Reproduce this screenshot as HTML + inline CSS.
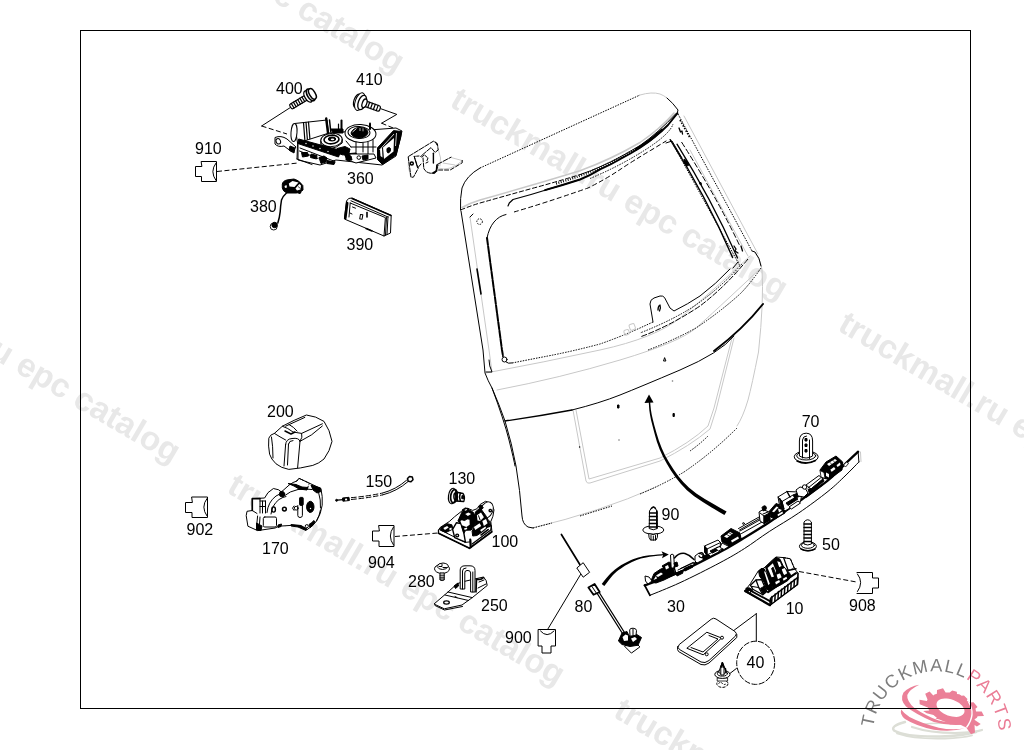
<!DOCTYPE html>
<html><head><meta charset="utf-8"><title>Parts diagram</title>
<style>
html,body{margin:0;padding:0;background:#fff;}
body{width:1024px;height:750px;overflow:hidden;font-family:"Liberation Sans",sans-serif;}
svg{display:block;position:absolute;left:0;top:0;will-change:transform;}
.wm{font-family:"Liberation Sans",sans-serif;font-weight:bold;font-size:33.4px;fill:#e8e8e8;}
.lb{font-family:"Liberation Sans",sans-serif;font-size:16px;fill:#000;}
.k{fill:none;stroke:#000;stroke-width:1;stroke-linecap:round;stroke-linejoin:round;}
.k2{fill:none;stroke:#000;stroke-width:1.6;stroke-linecap:round;stroke-linejoin:round;}
.g{fill:none;stroke:#c8c8c8;stroke-width:1;stroke-linecap:round;stroke-linejoin:round;}
.d{fill:none;stroke:#000;stroke-width:1;stroke-dasharray:5 2.5;}
.dt{fill:none;stroke:#000;stroke-width:1;stroke-dasharray:1.5 1.2;}
.w{fill:#fff;stroke:#000;stroke-width:1;stroke-linejoin:round;}
.b{fill:#000;stroke:#000;stroke-width:1;stroke-linejoin:round;}
</style></head><body>
<svg width="1024" height="750" viewBox="0 0 1024 750">
<!--WATERMARKS-->
<g class="wm">
<text transform="translate(448.500,105.500) rotate(30.5)">truckmall.ru epc catalog</text>
<text transform="translate(225.500,491.500) rotate(30.5)">truckmall.ru epc catalog</text>
<text transform="translate(836.500,329.500) rotate(30.5)">truckmall.ru epc catalog</text>
<text transform="translate(612,716) rotate(30.5)">truckmall.ru epc catalog</text>
<text transform="translate(65,-121) rotate(30.5)">truckmall.ru epc catalog</text>
<text transform="translate(-159,269) rotate(30.5)">truckmall.ru epc catalog</text>
</g>
<g id="logo">
<defs>
<path id="arc1" d="M873,734.400 A63,63 0 0 1 999,734.400 A63,63 0 0 1 990,766"/>
</defs>
<!-- gray shadow -->
<g fill="none" stroke="#dcded6" stroke-linecap="round">
<path stroke-width="2.500" d="M905,722 Q890,726 894,730.500 Q905,737 940,736.500 Q962,736 976,732"/>
<path stroke-width="1.800" d="M897,733.500 Q915,739.500 945,738.500 Q962,738 972,735.500"/>
<path stroke-width="2.200" d="M912,727 Q930,733 955,733 Q975,732.500 982,730"/>
<path stroke-width="1.500" d="M920,724.500 Q940,722 968,724.500"/>
</g>
<!-- swooshes -->
<path fill="#eb8098" d="M919.300,684.800 Q909.500,686.500 903.500,692.500 Q899.500,699.500 906,706.500 Q916,714.500 933.900,722 Q950,726.500 968.100,724 Q953,724 938.800,720.600 Q926,716 914.400,708 Q906.500,701 907.300,695 Q909.500,689.500 919.300,684.800Z"/>
<path fill="#eb8098" d="M901.200,709.500 Q899.500,714.500 905,719 Q916,726 933.900,729.800 Q952,732 964.500,728.500 Q951,730.300 938.800,727.700 Q922,723.500 909.500,717 Q904,713.500 901.200,709.500Z"/>
<!-- gear -->
<path fill="#eb8098" fill-rule="evenodd" d="M975.4,718.7 L974.4,719.8 L980.7,724.1 L976.9,726.6 L974.500,725 L975,732.500 L971,734.300 L966.2,727.500 L964.0,726.600 L959.9,724.6 L957.7,724.5 L955.5,724.3 L950,724.500 L945.7,722.0 L943.5,721.2 L939.4,719.500 L935.500,718.600 L936.9,717.7 L935.2,716.5 L933.5,715.1 L926.6,713.300 L923.200,711 L929.3,710.5 L928.4,709.1 L927.8,707.6 L919.7,704.300 L919.5,699.800 L926.9,701 L927.1,700.500 L927.5,699.500 L925.200,693.800 L929.600,691.500 L933.300,695.500 L934.500,694.600 L936.900,693.800 L937,689.900 L943.0,688.3 L945.600,692.400 L947.600,692.600 L949.700,692.500 L952.200,690.400 L956.800,691.700 L957.0,693.900 L959.300,694.300 L961.600,695.800 L964.0,695.600 L967.500,698.900 L966.800,700.400 L967.900,701.400 L969.900,702.500 L973.600,702.200 L977.500,706.900 L975.400,708.700 L975.800,710.100 L976.0,711.500 L981.700,711.600 L984.0,715.900 L977.600,716.300 L976.900,717.800Z M964.2,712.7 L963.6,713.8 L962.7,714.8 L961.5,715.6 L960.0,716.3 L958.2,716.7 L956.3,716.9 L954.2,716.8 L952.1,716.6 L949.9,716.1 L947.7,715.4 L945.6,714.5 L943.6,713.5 L941.8,712.3 L940.2,711.0 L938.8,709.6 L937.8,708.2 L937.0,706.7 L936.6,705.3 L936.5,704.0 L936.8,702.7 L937.4,701.6 L938.3,700.6 L939.5,699.8 L941.0,699.1 L942.8,698.7 L944.7,698.5 L946.8,698.6 L948.9,698.8 L951.1,699.3 L953.3,700.0 L955.4,700.9 L957.4,701.9 L959.2,703.1 L960.8,704.4 L962.2,705.8 L963.2,707.2 L964.0,708.7 L964.4,710.1 L964.5,711.4Z"/>
<path d="M968.500,702 Q976.500,714 966.500,727.500" fill="none" stroke="#fff" stroke-width="1.300"/>
<!-- text on arc -->
<text font-family="Liberation Sans, sans-serif" font-size="18" letter-spacing="1.500" fill="#7d7d7d"><textPath href="#arc1" startOffset="7">TRUCKMALL<tspan fill="#eb7d96">PARTS</tspan></textPath></text>
</g>
<!--FRAME-->
<rect x="80.5" y="30.5" width="890" height="678" fill="none" stroke="#000" stroke-width="1"/>
<!--TAILGATE-->
<g id="tailgate">
<!-- gray secondary lines -->
<path class="g" style="stroke-width:1.500" d="M462,207.500 Q470,203 480,200 Q530,186 580,170.700 Q612,159 640,142.500 Q660,129 674,113"/>
<path class="g" d="M470,217 L489,350 L492,372"/>
<path class="g" d="M486,373 Q545,362 600,350 T680,318 T750,256"/>
<path class="g" d="M497,390 Q560,378 620,360 T696,328 T761,268"/>
<path class="g" d="M755,253 Q761,260 762,270 Q764,300 758.5,352 Q752,385 748,400 Q743,417 737,426"/>
<path class="g" d="M573,410 L586,481 Q587,484 590,483 L660,461 Q690,446 710,429 L716,410 L734,338"/>
<path class="g" d="M576,410 L589,479 L660,458 Q690,443 708,426 L714,408 L732,338"/>
<path class="g" d="M684,116 L758,254"/>
<path class="g" d="M690,150 L748,256"/>
<path class="g" d="M532,528 Q600,512 656,487"/>
<!-- spoiler -->
<path class="dt" d="M480,168 L640,95"/>
<path class="k" d="M480,168 Q466,176 462,188 Q460,198 460.500,210"/>
<path class="g" d="M640,95 Q652,91.500 660,94 Q664,95.500 667,98"/>
<path class="k" d="M667,98 Q673,103 678,110 L677,114"/>
<path class="d" style="stroke-dasharray:5 1.800" d="M460.500,210 Q470,206 480,203 Q505,196 530,189 Q556,182 580,174.600"/>
<path class="k" d="M580,174.600 Q591,171 600,166.800 Q611,162 620,157 Q631,151 640,145.500 Q658,133 676,113.500"/>
<path class="k" style="stroke-width:1.200" d="M508,206 L509.300,203 L513,199.500 Q530,195 545,190.200 Q563,185 580,179.500"/>
<path class="k" style="stroke-width:1.900" d="M545,190.200 Q563,185 580,179.500 Q591,175 600,169.400 Q611,164.500 620,159.200 Q631,153.500 640,147.800 Q656,137 668,125 L677.500,113.200"/>
<path fill="none" stroke="#000" stroke-width="2.400" stroke-dasharray="0.900 1.500" d="M556,183.500 Q580,176.500 600,167.800 Q621,158 640,146.500"/>
<path class="k" style="stroke-width:2.600" d="M636,149.500 Q650,141 662,130"/>
<path class="dt" d="M590,178.500 Q620,166 645,150 T673,124"/>
<!-- window opening -->
<path class="k" style="stroke-width:2;stroke-dasharray:7 1.5" d="M487,238 L502,350 L503,356"/>
<path class="k" d="M487,238 Q489,228 494,222 Q499,216 506,214.5"/>
<path class="d" d="M514,212 Q545,203 588,188 Q606,179 620,169.6 T652,149.6 L666.4,140.8"/>
<path class="k" style="stroke-width:1.400" d="M670.200,139.700 Q707,198 732.600,257.500"/>
<path class="k" style="stroke-width:1.300" d="M677,144.200 Q712,200 737.500,258"/>
<path class="dt" style="stroke-dasharray:6 2" d="M681.500,142 Q716,196 739.400,245"/>
<path class="b" d="M684,159 l3,2 l2,4 l-2,1 l-3,-3z"/>
<path class="k" style="stroke-width:1.300" d="M679,128 l1.500,4 l1.500,-1 l0.500,3"/>
<path class="dt" style="stroke-dasharray:1.500 1.500;stroke-width:1.600" d="M680,120 L690,138"/>
<path class="b" d="M699.500,182.500 l1.500,0 l0.500,2 l-1.500,0z"/>
<path class="k" style="stroke-width:1.300" d="M734,246 l2,3 l-1,2 l3,2 M741,246 l1.500,5"/>
<path class="k" d="M666,143 L672,141 L682,158"/>
<path class="dt" d="M674,146 L740,266"/>
<path class="dt" d="M678,114 L752,251"/>
<path class="k" d="M752,251 L755,252 Q760,258 761,266"/>
<path class="k" d="M738,262 L733,268"/>
<path class="k" d="M730,269 Q716,284 700,296 Q688,304 674,311 L670,308 L664.5,297.5 Q663,295.5 660,296 L654,298 Q650,299.5 650,304 L653,322"/>
<path class="dt" d="M653,322 L640,328 Q620,337 600,344 Q570,352 540,357.5 L512,363"/>
<path class="dt" d="M742,264 Q722,286 700,302 T640,333"/>
<path class="d" style="stroke-dasharray:6 1.5" d="M748,259 Q725,287 700,306 Q670,326 640,337"/>
<path class="k" d="M512,363 Q508,364 506,362"/>
<circle class="k" cx="504.500" cy="359.500" r="2.500"/>
<path class="dt" d="M761,268 Q750,284 740,294 Q720,312 696,328 Q672,341 648,350"/>
<!-- outer left edge -->
<path class="k" d="M461,211 L483,350 L485,373 Q488,381 492,388 Q499,404 505,421 Q512,444 516,466 Q520,490 522,516 Q522.500,524 528,527 L533,528"/>
<path class="k" d="M492,388 Q504,420 509,440 T515,466"/>
<path class="k" style="stroke-width:1.6" d="M477,269 L481,294"/>
<path class="k" d="M486,372 L492,372 Q489,366 489,360"/>
<path class="k" d="M470,217 L473,214"/>
<circle class="dt" cx="479.600" cy="221.600" r="2.800"/>
<!-- belt line -->
<path class="k" style="stroke-width:1.3" d="M505,421 Q540,416 572,410"/>
<path class="k" d="M572,410 Q600,403 620,395 T680,370 T734,336"/>
<path class="k" style="stroke-width:2" d="M714,351 Q743,329 763,304"/>
<!-- bottom -->
<path class="dt" d="M533,528 L552,523"/>
<path class="dt" d="M580,516 L612,506"/>
<path class="dt" d="M640,494 Q664,484 684,472"/>
<path class="dt" d="M684,472 Q712,453 737,428"/>
<path class="dt" d="M690,451 Q700,444 708,436"/>
<!-- small details -->
<rect class="g" x="629.500" y="324" width="5.500" height="6" rx="1.500" transform="rotate(-20 632 327)"/>
<rect class="g" x="624" y="330" width="5" height="5" rx="1.500" transform="rotate(-20 626 332)"/>
<path class="b" d="M617.500,405 h1.500 v3 h-1.500z"/>
<circle cx="619" cy="440" r="0.800" fill="#777"/>
<circle cx="579.600" cy="447" r="0.700"/>
<path class="b" d="M673,413.500 h1.300 v3 h-1.300z"/>
<circle cx="672.500" cy="381" r="0.800" fill="#777"/>
<path class="k" d="M664.500,358 l-1,3 h2z" />
<path class="k" d="M658,310 q0,-4 2,-5 q1,3 -0.500,6" style="stroke-width:1.300"/>
<!-- big arrow -->
<path d="M649,394.500 L644.500,403 L653.500,402.500 Z" fill="#000"/>
<path d="M648.6,400.1 L648.8,402.5 L649.0,405.9 L649.3,410.0 L650.0,414.8 L651.1,420.2 L652.7,426.5 L654.6,433.7 L656.8,441.4 L659.6,449.2 L662.9,456.6 L666.7,463.6 L670.9,470.6 L675.7,477.5 L681.0,484.1 L686.9,490.2 L694.2,496.2 L702.8,502.1 L711.6,507.4 L719.2,511.9 L724.4,515.1 L726.6,511.5 L721.2,508.4 L713.5,504.1 L704.8,498.9 L696.3,493.4 L689.1,487.8 L683.3,481.9 L678.0,475.7 L673.3,469.0 L669.0,462.3 L665.1,455.4 L661.8,448.3 L658.9,440.7 L656.5,433.1 L654.5,426.0 L652.9,419.8 L651.7,414.5 L650.9,409.8 L650.5,405.7 L650.2,402.4 L650.0,399.9Z" fill="#000"/>
</g>
<!--PARTS-->
<g id="parts">
<!-- symbol 910 -->
<path class="k" d="M201.500,161.500 H216.500 V181.500 H201.500 V176.500 H195.500 V166.500 H201.500 Z"/>
<path class="k" d="M216,163 Q209.500,171.500 216,180.500"/>
<path class="d" d="M217,171.500 L298,163"/>
<!-- symbol 902 -->
<path class="k" d="M192,497 H207.500 V517.500 H192 V512.500 H185.500 V502.500 H192 Z"/>
<path class="k" d="M207,498.500 Q200.500,507 207,516"/>
<!-- symbol 904 -->
<path class="k" d="M379,525.500 H394 V546.500 H379 V541 H372.500 V531 H379 Z"/>
<path class="k" d="M393.500,527 Q387,536 393.500,545"/>
<path class="d" d="M395,536.500 L438,533"/>
<!-- symbol 908 -->
<path class="k" d="M857,572.500 H872.500 V578 H878.500 V588 H872.500 V593.500 H857"/>
<path class="k" d="M857.500,574 Q864,582.500 857.500,591.500"/>
<path class="d" d="M799,571.500 L856.500,582"/>
<!-- symbol 900 -->
<path class="k" d="M538.500,629.500 H555.500 V646 H551 V653 H542 V646 H538.500 Z"/>
<path class="k" d="M540.500,631 Q547,638.500 554,631"/>
<path class="k" d="M580.600,574.400 L548,628.800"/>
<path class="k" style="stroke-width:1.700" d="M561.400,534.500 L580,564.800"/>
<path class="w" d="M576.800,568 L583.200,562.700 L589.600,572.300 L583.200,577.200 Z"/>
<!-- bolt 400 -->
<g transform="translate(290.500,107) rotate(-31)">
<rect class="w" x="0" y="-2.700" width="19" height="5.400" rx="1.500" style="stroke-width:1.200"/>
<path class="k" style="stroke-width:1.200" d="M2.500,-2.700 v5.400 M5,-2.700 v5.400 M7.500,-2.700 v5.400 M10,-2.700 v5.400 M12.500,-2.700 v5.400 M15,-2.700 v5.400"/>
<ellipse class="w" cx="20.500" cy="0" rx="3.200" ry="6.300" style="stroke-width:1.400"/>
<ellipse class="w" cx="23.500" cy="0" rx="3.200" ry="6.600" style="stroke-width:1.600"/>
<ellipse class="w" cx="25.500" cy="0" rx="2.800" ry="5.800" style="stroke-width:1.500"/>
</g>
<path class="k" d="M290.400,107.500 L261.600,126"/>
<path class="d" d="M261.600,126 L287,134"/>
<!-- bolt 410 -->
<g transform="translate(380,109) rotate(200)">
<rect class="w" x="0" y="-2.800" width="18" height="5.600" rx="1.800" style="stroke-width:1.200"/>
<path class="k" style="stroke-width:1.200" d="M3,-2.800 v5.600 M6,-2.800 v5.600 M9,-2.800 v5.600 M12,-2.800 v5.600"/>
<ellipse class="w" cx="24" cy="0" rx="3.500" ry="7" style="stroke-width:1.200"/>
<ellipse class="w" cx="21.500" cy="0" rx="4.500" ry="9.200"/>
<ellipse class="w" cx="19" cy="0" rx="3.800" ry="7.500" style="stroke-width:1.300"/>
<ellipse class="w" cx="16.500" cy="0" rx="2.200" ry="4.500" style="stroke-width:1.300"/>
</g>
<path class="k" d="M381,108.800 L396.800,114.400 L381.600,123.200"/>
<path class="d" d="M381.600,123.200 L399,130.400"/>
<!-- circle 40 -->
<ellipse class="d" cx="755.700" cy="662.800" rx="19" ry="21.600" style="stroke-dasharray:6 1.500"/>
<path class="k" d="M756.300,613.700 V641.200 M756.300,613.700 L734.400,630 M736.500,668.400 L727.200,675.600"/>
<!-- gasket -->
<path class="k" d="M711.500,619 Q713.600,617.300 716,619 L735,631.500 Q737.500,633.500 735.500,636 L709,660.500 Q705,663.800 701,662 L679.500,649.500 Q676.500,647.500 679,644.800 Z"/>
<path class="k" d="M736.800,634.500 V637.500 L709,663 Q705,666 701,664.500 L678.500,651.500 Q677,650 677.600,646.500"/>
<path class="k" d="M707.200,632.400 L721.600,638 L703.200,654.800 L687.200,648.400 Z"/>
<path class="k" d="M709,635.500 L718,639 L703,652 L691,647.500"/>
<circle class="w" cx="722" cy="637.700" r="1.500"/>
<circle class="w" cx="706.700" cy="654.300" r="1.500"/>
<!-- assembly 360 -->
<g id="p360">
<!-- mounting tab left -->
<path class="w" d="M275,137.500 Q281,135 287,139 L296,147 L292,152 L284,146 Q278,147.500 275,144 Z"/>
<ellipse class="w" cx="278.300" cy="141.300" rx="2.200" ry="2.800" transform="rotate(-25 278.300 141.300)"/>
<path class="b" d="M290,146 l5,2 l-1,5 l-5,-3z"/>
<!-- cylinder -->
<path class="w" d="M294.600,123.500 L327,120 L329,138 L298,146 Z"/>
<ellipse class="w" cx="294" cy="132.600" rx="3" ry="9" transform="rotate(4 294 132.600)"/>
<path class="k" d="M303.500,122.500 L305,142 M308.500,122 L310,140 M306,122.300 L307.500,141" style="stroke-width:1.200"/>
<!-- body base -->
<path class="w" d="M298,143 L329,133 L396,128 L402,131 L396,156 L382,165 L336,160 L320,165 L298,160 Z"/>
<!-- dark band -->
<path class="b" d="M298.700,139 L341,150.500 L338.500,157 L297.800,143.500 Z"/>
<circle cx="306" cy="143.500" r="0.700" fill="#fff"/><circle cx="313" cy="146" r="0.700" fill="#fff"/><circle cx="320" cy="148.500" r="0.700" fill="#fff"/><circle cx="328" cy="151.500" r="0.700" fill="#fff"/>
<!-- bottom-left cluster -->
<path class="k" d="M297.500,145 L297,159"/>
<path class="b" d="M301.500,152.500 h6 l1,3.500 l-6,1z M311,154 l6,1.500 l-0.500,3.500 l-6,-1.500z M319,157.500 l5,-1.500 l3,2 l-1,4 l-5,1.500z M327,160.500 l8,1.500 l-1,2.500 l-7,-1z"/>
<path class="k" d="M300,148 L335,161.500 M299.500,151 L318,158.500"/>
<path class="k" d="M297,159 L312,164.500"/>
<!-- round 1 -->
<ellipse class="w" cx="331.500" cy="140" rx="10.800" ry="6.600" transform="rotate(-4 331.500 140)"/>
<path class="k" d="M320.800,141 V144.500 Q331,153 342.200,143 V139.500"/>
<ellipse class="k" cx="331.500" cy="139.500" rx="7.500" ry="4.300" style="stroke-width:1.600" transform="rotate(-4 331.500 139.500)"/>
<ellipse class="b" cx="332" cy="139" rx="3.800" ry="2" />
<ellipse cx="332.500" cy="139.300" rx="1.800" ry="0.900" fill="#fff"/>
<!-- round 2 -->
<ellipse class="w" cx="360.500" cy="133.500" rx="15.500" ry="9" transform="rotate(3 360.500 133.500)"/>
<ellipse class="k" cx="359" cy="132.500" rx="11" ry="6" transform="rotate(3 359 132.500)"/>
<path class="b" d="M351,133 Q353,127.500 360,127.500 Q368,128 368,133 Q366,138 358.500,138 Q352,137.500 351,133Z"/>
<path d="M352.500,132 l4,-3.500" stroke="#fff" stroke-width="0.900"/>
<path d="M360,128 v3 M363,128.300 v3" stroke="#fff" stroke-width="0.700"/>
<!-- middle cluster -->
<path class="b" d="M337,148.500 l8,-2 l5,2.500 l-1,4 l-6,2 l-6,-2z"/>
<path class="b" d="M344,154 l12,-1 l2,5 l-10,3z"/>
<path class="k" d="M346,141 L351,147 M356,142 V154 M363,143 V152 M368,142 V156 M373,140 V152 M351,147 H376"/>
<path class="w" d="M350,154 h24 l2,4 l-20,5 l-8,-3z"/>
<circle class="w" cx="358.800" cy="157.600" r="1.800"/>
<path class="b" d="M346,155 l5,1 l1,4 l-6,0z M362,156 l6,-1 l0,4 l-5,1z"/>
<!-- right block -->
<path class="b" d="M377.500,147.800 L393.500,130.600 L401.500,131.500 L400.800,137 L396,155 L382.500,164.500 L377.500,159.500 Z"/>
<path d="M383,147.500 L394,138 L393.500,151.500 L384,159 Z" fill="#fff"/><path d="M380,149.500 l2,-2 l0.500,10 l-2,-1.500z" fill="#fff"/>
<path class="b" d="M387,148.500 q2.500,-2 3.500,0 q0.500,3 -2,4.500 q-2,0 -1.500,-4.500z"/>
<path d="M379.500,150 L394,134" stroke="#fff" stroke-width="0.800"/>
<path d="M396.500,133 L395.500,146" stroke="#fff" stroke-width="0.800"/>
<!-- pins -->
<path class="k" style="stroke-width:2.400" d="M326.200,118.500 L328,133"/>
<path class="k" style="stroke-width:1.500" d="M329.500,120 L330.800,132"/>
<path class="k" style="stroke-width:2" d="M341.500,120.500 V130"/>
<path class="k" style="stroke-width:1.200" d="M338.500,124 V131"/>
<path class="k" style="stroke-width:2" d="M370,123.500 V129"/>
<path class="b" d="M331,129 h12 v4 h-10z"/>
</g>
<!-- hinge bracket -->
<g id="phinge">
<path class="g" d="M408.500,157 Q407,166 410.500,176.500 M438.500,150 Q442,158 440,166 M438,168 Q450,172 462,161 M451,157.500 L462,160.500 M443,163 L455,165"/>
<path class="k" style="stroke-dasharray:5 1.300" d="M408.600,156.400 L433.400,141.200 L437.400,143.600 L438.200,150 L435,152.400 L431,147.600 L420.600,156.400"/>
<path class="k" style="stroke-dasharray:4 1.300" d="M408.200,157.200 L411,177.200 L413.400,177.200 L418.200,168.400 L414.200,156.400 L419,156"/>
<path class="k" d="M414.200,156.400 L417.600,168 L421,164"/>
<circle class="k" cx="411.800" cy="163.600" r="1.500" style="stroke-width:1.500"/>
<path class="k" style="stroke-dasharray:4 1.300" d="M423,158 L423.800,168.400 Q425,172 430.200,173.200 L435,173.200 L438.200,165.200"/>
<path class="k" style="stroke-dasharray:3 1.200" d="M421.500,157 L424.500,155 L428,158 L427,160.500"/>
<path class="k" style="stroke-width:1.400" d="M433.400,153.200 V163"/>
<path class="k" style="stroke-width:1.700" d="M437,165 L436.500,171 L433,173"/>
<path class="k" style="stroke-dasharray:5 1.500" d="M437.400,164.400 L451,157.200"/>
<path class="k" style="stroke-dasharray:4 2" d="M462.200,160.400 L462.200,162.800 L450.200,170 L438.200,170"/>
<path class="k" d="M435.500,142 l1.500,3 M426,163 l2,-1"/>
</g>
<!-- part 380 -->
<g id="p380">
<path class="b" d="M282.300,184 Q283,180.500 288,179.800 L294,179 Q299,180 302.800,185.500 L303,190 Q300,193.500 296,193 L287,193 Q283,191.500 282.300,188 Z"/>
<path d="M288.800,183.500 L292.500,181 L298.500,182.500 L294.500,187 L289.500,186.500 Z" fill="#fff"/>
<path d="M295.500,188.500 L299.300,184 L301,185.500 L300.500,189.500 L297,190.500 Z" fill="#fff"/>
<path d="M284.500,186 l2,-1 l0.500,2.500 l-2,0.500z" fill="#fff"/>
<path d="M298,186.500 l2.500,2" stroke="#000" stroke-width="0.700"/>
<path class="b" d="M298,192.500 l3,0 l-1.500,1.500z"/>
<path class="k" style="stroke-width:1.500" d="M286.500,193 Q282.500,196.500 281.500,200 Q280.500,206 280.200,211.600 Q279.500,218 277.800,223"/>
<circle class="w" cx="273.700" cy="226.500" r="3.500" style="stroke-width:0.900"/>
<circle class="b" cx="274.600" cy="225" r="2.700"/>
</g>
<!-- part 390 -->
<g id="p390">
<path class="w" d="M346.500,201 Q348,197.500 352,198 L391.200,215.400 L390.500,233 L384,236 L344.400,219 Z"/>
<path class="k" style="stroke-width:2.600" d="M347.200,203 L345.300,218"/>
<path class="k" d="M350.200,203 L385.400,217.600 L384,236 M350.200,203 L349,217 M388,216.500 L387,234.500 M386.500,217.500 L385.500,235"/>
<path class="k" style="stroke-width:1.500" d="M352,198.500 L391,215.500"/>
<path class="k" d="M351,200.800 L388,217"/>
<rect class="w" x="360.200" y="214.500" width="2.400" height="4.500" transform="rotate(10 361 216)"/>
<path class="k" style="stroke-width:1.600" d="M367,212.500 V217"/>
<path class="k" d="M352.500,207 l3,1.200 M350,213 l2,1"/>
<path class="k" style="stroke-width:1.500" d="M366,228.500 L372,231"/>
</g>
<!-- part 200 cover -->
<g id="p200">
<path class="w" d="M306.400,415 Q316,416 324,421.400 Q330,430 332,441.400 Q330,451 324,459 Q319,463.500 312.800,465.400 Q300,468.500 288.800,469.400 Q281,468 276,463.800 Q271,459 269.600,454.200 Q268,446 268.800,438.200 Q270,434.500 274.400,433.400 L282.400,426.200 Q294,420 306.400,415 Z"/>
<path class="k" d="M285.600,444.600 Q286,439 292,438.500 Q299,437.500 300,441.400 L297.600,467.800 M285.600,444.600 L284,466"/>
<path class="k" d="M288.500,444 Q289,440.500 293,440.500 M288.500,444 L287.500,465"/>
<path class="k" d="M274.400,433.400 Q280,437 285.600,440"/>
<path class="k" d="M271.500,437 Q273,446 273,458"/>
<path class="k" d="M300,441.400 Q312,436 322.400,426 M285.600,426.200 L304.800,417.400 M301.600,433.400 L322.400,423.800"/>
<path class="k" d="M282.400,426.200 Q288,428 293,432 L301.600,433.400 Q303,437 300,441.400 M289,424.500 Q294,427 297,431"/>
<path class="k" style="stroke-width:1.500" d="M285,431 l6,3 l4,-2"/>
</g>
<!-- part 170 actuator -->
<g id="p170">
<path class="w" d="M289.200,485 Q293,482 297,481 L299,478.300 L309.400,483.200 L320.900,488.500 Q322.800,496 322.200,505.200 Q321,514 316.500,521 Q312,527 306.800,529.800 L298,525.500 L291,525.400 L278.700,526.200 L275.200,528 L257.600,530.600 L247.900,526.200 L246.200,515.700 L247,511.300 L252.300,510.500 L252.300,498.600 L264.600,498 Q267,492 273.400,488.500 L278.700,489.800 L281.300,492 Z"/>
<!-- top knob -->
<path class="dt" style="stroke-dasharray:2.500 1.200" d="M296.200,481.400 L298.900,478.300 L309.400,483.200 L307.700,487.600"/>
<path class="b" d="M288,483.500 l8,1 l6,2.500 l6,0.500 l-1,2.500 l-8,-1 l-5,-3z"/>
<path class="b" d="M311,485 l9.500,3 l0.500,3.500 l-4,1.500 l-4,-3z"/>
<path class="k" d="M318.500,492 Q321,500 320.500,508"/>
<!-- inner contour -->
<path class="k" d="M284,496 Q290,491 298,489.500 Q306,488.500 312,489.500"/>
<path class="k" d="M267,512.500 Q268,502 276,496 Q280,493.500 282.600,493.300"/>
<path class="k" d="M271,514 Q272,505 279,499.500 Q283,497 286,496.500"/>
<path class="b" d="M280.200,491.500 q3,-1 4.500,1.500 q0.500,3 -2,4 q-3,0 -3.500,-2.500z"/>
<!-- connector box -->
<path class="k" style="stroke-width:1.600" d="M252.300,510.500 V498.600 H260"/>
<path class="k" d="M260,498.600 V513 M262.500,501 V513 M265.500,501 V513 M260,506.500 H265.500 M260,501 H265.500"/>
<path class="k" d="M252.300,510.500 L257,513.500"/>
<!-- bottom-left box -->
<path class="k" d="M257.600,516 L256.500,527.500 M260,517 L259.500,524"/>
<rect class="k" x="263.300" y="517" width="13.200" height="10" rx="1.500"/>
<path class="b" d="M256.500,523 l5.500,3 l-1,4.500 l-4.500,-0.500z"/>
<path class="b" d="M278,525 l3.500,-1 l-0.500,2.500 l-3,1z"/>
<!-- right housing details -->
<ellipse class="b" cx="310.300" cy="506.900" rx="3.700" ry="5.600"/>
<circle cx="310.500" cy="508.500" r="0.700" fill="#fff"/>
<rect class="b" x="299.600" y="497.400" width="3.600" height="8" rx="0.800"/>
<path class="k" d="M297.800,505.500 V515.500 Q298,517.500 300,517.500 Q302.300,517.500 302.400,515.500 V505.500"/>
<circle class="k" cx="284.400" cy="509.100" r="1.900" style="stroke-width:1.500"/>
<circle class="k" cx="296.200" cy="508.200" r="1.900"/>
<path class="k" d="M294,506 l-1.500,2.200 l1.500,2.200"/>
<ellipse class="k" cx="273.600" cy="509.500" rx="1.800" ry="2.600" style="stroke-width:1.400"/>
<!-- bottom right -->
<path class="b" d="M291,524.500 l10,1 l6,3.500 l-1,1.500 l-8,-3.500 l-7,-1z"/>
<path class="b" d="M309,524.500 q3,-2 5,-4 l1,2 q-2,3.500 -5,5z"/>
<circle class="w" cx="306.800" cy="526.200" r="1.600"/>
<path class="k" d="M316.500,521 Q319.500,516 320.500,510"/>
</g>
<!-- cable 150 -->
<g id="p150">
<path class="k" style="stroke-width:1.200" d="M337.500,500.200 L343,499.600"/>
<circle class="b" cx="336.600" cy="500.300" r="1"/>
<path class="b" d="M342.500,498 l6.500,-0.700 l0.400,3.200 l-6.500,0.700z"/>
<path d="M345,498.800 l2,-0.200 l0.200,1.600 l-2,0.200z" fill="#fff"/>
<path class="d" style="stroke-dasharray:5.500 1.800" d="M351,497.700 Q368,496.200 382.700,493"/>
<path class="d" style="stroke-dasharray:5.500 1.800" d="M351,499.500 Q368,498 383,494.800"/>
<path class="k" d="M382.700,493 Q396,489.500 406.500,480.300 M383,494.800 Q397,491.200 407.800,481.800"/>
<path class="w" style="stroke-width:1.500" d="M407.500,478.500 l2,-2 l2.800,0.500 l0.700,2.700 l-2,2 l-2.800,-0.500z"/>
</g>
<!-- part 130 -->
<g id="p130">
<ellipse class="w" cx="452.300" cy="496" rx="3.800" ry="7.800" transform="rotate(8 452.300 496)" style="stroke-width:1.200"/>
<ellipse class="k" cx="454" cy="496.200" rx="3.300" ry="6.600" transform="rotate(8 454 496.200)" style="stroke-width:1.700"/>
<path class="w" d="M455.500,492 L463,493.500 Q465.500,497 463.800,501.500 L456,501 Z" style="stroke-width:1.300"/>
<path class="k" style="stroke-width:1.600" d="M457.500,492.500 q-1.600,4 0,8 M460.300,493.200 q-1.600,3.800 0,7.600"/>
<ellipse class="k" cx="455.600" cy="496.500" rx="1.700" ry="3.400" style="stroke-width:1.500"/>
<path class="b" d="M462,495.500 l2,0.500 l-0.300,3 l-2,-0.500z"/>
</g>
<!-- part 100 lock -->
<g id="p100">
<path class="w" d="M438.5,530.1 L440.1,527.5 L449.2,521.6 L454.5,516.8 L462.0,510.9 L467.3,508.3 L472.7,510.4 L476.9,508.8 L480.1,504.5 L485.5,501.3 L490.8,502.9 L494.0,509.9 L492.9,516.3 L490.8,521.6 L491.9,531.2 L469.5,548.3 L438.5,533.3Z"/>
<ellipse class="w" cx="486.74666666666667" cy="510.08" rx="6" ry="8.600" transform="rotate(24 486.74666666666667 510.08)" style="stroke-width:0.900"/>
<circle class="k" cx="490.3" cy="510.6" r="1.200" style="stroke-width:1.400"/>
<path class="k" style="stroke-width:1.700" d="M438.5,533.3 L469.5,548.3 L491.9,531.7"/>
<path class="k" d="M439.6,529.6 L465.2,542.4 L470.0,541.9"/>
<path class="k" style="stroke-width:1.300" d="M438.5,530.1 L438.5,533.3"/>
<path class="k" style="stroke-width:2.200" d="M470.3,539.7 L470.7,547.2"/>
<path class="k" style="stroke-width:1.300" d="M472.1,544.0 L490.8,530.1 L491.3,525.9"/>
<path class="k" style="stroke-width:1.800" d="M481.2,534.9 L488.1,529.6"/>
<path class="b" d="M440.7,527.5 L447.1,523.7 L451.9,524.8 L452.9,529.1 L446.0,532.5 L440.7,530.3Z"/>
<path d="M443.3,528.0 L447.1,526.1 L448.7,527.5 L444.9,529.9Z" fill="#fff"/>
<path d="M449.2,528.5 L451.3,527.5 L451.9,529.3 L449.7,530.3Z" fill="#fff"/>
<path class="w" style="stroke-width:1.400" d="M452.6,529.3 L456.5,522.7 L460.9,523.5 L463.9,533.3 L465.4,542.1 L454.7,537.6Z"/>
<circle class="k" cx="457.2" cy="535.5" r="1.400" style="stroke-width:1.400"/>
<path class="b" d="M457.9,521.1 L462.0,512.0 L467.5,509.0 L472.9,512.0 L475.3,515.2 L475.9,523.2 L471.1,530.1 L465.7,530.3 L463.9,533.3 L460.9,523.5Z"/>
<path d="M460.4,521.1 L464.1,518.4 L469.5,519.7 L469.7,524.8 L466.3,526.9 L462.0,525.3Z" fill="#fff"/>
<path class="b" d="M461.6,519.7 L465.2,517.9 L467.5,518.6 L464.7,520.5Z"/>
<path d="M465.2,514.1 L468.4,512.5 L471.1,514.1 L467.9,516.1Z" fill="#fff"/>
<path d="M463.9,528.5 L466.8,527.5 L467.3,528.9 L464.7,529.9Z" fill="#fff"/>
<path class="b" d="M462.0,510.1 L465.2,507.9 L468.9,508.8 L467.3,511.1 L464.1,512.0Z"/>
<path d="M464.3,509.9 L466.3,509.0 L467.3,509.7 L465.5,510.7Z" fill="#fff"/>
<path class="b" d="M475.3,512.0 L480.1,507.9 L485.5,515.2 L488.5,520.5 L489.7,525.3 L483.3,531.2 L476.9,535.5 L472.7,536.0 L472.1,531.2 L475.9,523.2Z"/>
<path d="M476.9,515.2 L481.0,512.5 L483.9,517.3 L480.1,521.1 L477.5,520.5Z" fill="#fff"/>
<path d="M473.9,526.9 L479.6,523.2 L481.2,525.9 L475.3,530.1Z" fill="#fff"/>
<path d="M482.3,521.1 L486.0,518.9 L487.6,523.2 L483.9,526.1Z" fill="#fff"/>
<path d="M480.1,530.1 L485.5,526.4 L486.0,528.0 L481.2,531.7Z" fill="#fff"/>
<path class="k" d="M478.5,515.7 L480.1,520.0"/>
<path class="b" d="M478.5,506.7 L481.2,505.1 L483.3,507.9 L481.0,509.9Z"/>
<path class="k" style="stroke-width:1.300" d="M489.7,521.1 L490.6,525.9 L488.5,526.9"/>
</g>
<!-- screw 280 -->
<g id="p280">
<ellipse class="w" cx="442" cy="568.800" rx="7.500" ry="4.600"/>
<path class="w" d="M437,566.500 Q438,563 443,563 Q448,563.500 448.500,566.500 Q446,569.500 442.500,569.500 Q438.500,569.500 437,566.500Z"/>
<path class="k" d="M439,566.500 h3 v-2 M443,567.500 h3.500"/>
<path class="w" d="M440,573 h4.200 v7 q-2,1.200 -4.200,0z"/>
<path class="k" d="M440,575.200 h4.200 M440,577.200 h4.200 M440,579 h4.200"/>
</g>
<!-- striker 250 -->
<g id="p250">
<path class="w" d="M434,604 L448,592 L457.300,583.600 L466,581 L483.500,577 Q487,580 487.200,585.500 L472.300,597.600 L462,605 L444.300,608.800 Z"/>
<path class="k" d="M448,592 L472.300,597.600 M445,595 L468.500,600.500"/>
<path class="b" d="M454,586 l4,-3 l0.500,3 l-3,2.500z"/>
<path class="k" d="M435,605.500 L444.500,610 L462.500,606.500"/>
<path class="k" style="stroke-width:1.600" d="M476.500,579 Q481,580.500 483.500,577.500 M476.500,579 L476,592"/>
<path class="k" d="M479,582 l5,-2 M478,588 l8,-4"/>
<ellipse class="k" cx="446.500" cy="602.500" rx="2.800" ry="1.600" style="stroke-width:1.300"/>
<path class="k" d="M455,596.500 l2,1"/>
<!-- U loop -->
<path class="w" d="M460.200,589 V570 Q460.200,565.800 465,565.800 H470 Q475,565.800 475,570.500 V592 H470.600 V573 Q470.600,570.500 468,570.500 H467 Q464.800,570.500 464.800,573 V589 Z"/>
<path class="k" d="M462.500,589 V571 Q462.500,568 466,568 M472.800,592 V572"/>
</g>
<!-- strip 30 -->
<g id="p30">
<!-- band -->
<path class="w" style="stroke:none" d="M644.7,585.3 C650.6,583.1 667.5,577.5 680.0,572.0 C692.5,566.5 710.0,557.2 720.0,552.0 C730.0,546.8 731.8,545.5 740.0,540.5 C748.2,535.5 759.5,528.7 769.3,522.2 C779.1,515.7 788.9,508.6 798.7,501.6 C808.5,494.6 820.7,486.3 828.0,480.4 C835.3,474.5 837.7,471.2 842.7,466.4 C847.7,461.6 855.5,454.1 858.1,451.7 L858.9,462 C856.6,464.3 850.1,471.1 845,476 C839.9,480.9 835.7,485.2 828,491.4 C820.3,497.6 808.5,506.3 798.7,513 C788.9,519.7 778.3,525.6 769.3,531.5 C760.2,537.4 752.6,543.4 744.4,548.6 C736.2,553.8 730.7,557 720,562.7 C709.3,568.4 691.7,577.3 680,582.7 C668.3,588.1 655,593.2 650,595.3 Z"/>
<path class="k" style="stroke-width:2.300" d="M644.7,585.3 C650.6,583.1 667.5,577.5 680.0,572.0 C692.5,566.5 710.0,557.2 720.0,552.0 C730.0,546.8 731.8,545.5 740.0,540.5 C748.2,535.5 759.5,528.7 769.3,522.2 C779.1,515.7 788.9,508.6 798.7,501.6 C808.5,494.6 820.7,486.3 828.0,480.4 C835.3,474.5 837.7,471.2 842.7,466.4 C847.7,461.6 855.5,454.1 858.1,451.7"/>
<path class="k" d="M650.0,595.3 C655.0,593.2 668.3,588.1 680.0,582.7 C691.7,577.3 709.3,568.4 720.0,562.7 C730.7,557.0 736.2,553.8 744.4,548.6 C752.6,543.4 760.2,537.4 769.3,531.5 C778.3,525.6 788.9,519.7 798.7,513.0 C808.5,506.3 820.3,497.6 828.0,491.4 C835.7,485.2 839.9,480.9 845.0,476.0 C850.1,471.1 856.6,464.3 858.9,462.0"/>
<path class="k" style="stroke-width:1.800" d="M644.7,585.300 L650,595.300"/>
<path class="k" d="M858.100,451.700 L858.900,462"/>
<path class="g" d="M860.500,452 L861,461.500"/>
<!-- left cluster -->
<path class="b" d="M650.500,582 L654,573.500 L660,569.500 L667,566 L672,569 L676,574 L664,580 L656,583 Z"/>
<path class="b" d="M676,573 l6,-2.500 l1,2.500 l-6,3z M684,568.500 l8,-3.500 l1,2 l-8,4z"/>
<path d="M656,575.500 l5,-3 l2,1.500 l-5,3z M653.500,580 l3.500,-1.500 l-1,-2.500z" fill="#fff"/>
<path class="w" d="M645,576 l4,1 l3,4 l-4,3 l-2.500,-3z"/>
<path class="b" d="M662,566 l7,-4 l4,2 l1,8 l-5,2z"/>
<path d="M665,566.500 l3,-1.500 l1,3 l-3,1.500z" fill="#fff"/>
<!-- pin & loop -->
<path class="w" d="M670.500,555 q1.500,-1.800 3.200,0 l0.800,13 h-3.300z"/>
<path class="k" style="stroke-width:1.500" d="M674.500,558 Q679,552.500 685,553.500 Q690,555 694,559.500"/>
<path class="k" style="stroke-width:1.400" d="M674,567 L676,574 M671,568 L672,575"/>
<path class="b" d="M674,563 l3,-1 l1,4 l-3,1z"/>
<!-- rails left -->
<path class="k" d="M678,570 L694,562.500 M679,572 L695,564.500 M680.500,568.500 L693,562.500"/>
<path class="k" style="stroke-width:1.600" d="M694,563.500 L705,558 M722,549.500 L742,538.500 M786,510.500 L800,501.500 M806,497 L822,485"/>
<!-- box 1 -->
<path class="w" d="M695,556 l4,-3 l4,2 v5 l-6,3 l-2,-2z"/>
<path class="k" style="stroke-width:1.400" d="M699.500,553.500 q2,-1.500 3.500,0 q1.500,2.500 -0.500,4 q-2.500,0.500 -3.500,-1.500"/>
<path class="b" d="M703,556 l5,-2 l2,2 l-6,4z"/>
<!-- box 2 -->
<path class="w" d="M704.500,546 L718,540 L720.500,542.500 L720,548.500 L707,555 Z"/>
<path class="k" d="M704.500,546 L707,549 L720.500,542.500 M707,549 V555"/>
<path class="b" d="M710,551 l8,-4 l3,1.500 l-8.500,4.500z"/>
<path class="w" d="M715.500,548.500 l6,-3 l3,2 l-6,3.500z"/>
<path class="b" d="M704.500,546 l2.500,3 v6 l-2.500,-2.500z"/>
<!-- dark box -->
<path class="b" d="M721,536 L731,528.500 L740,533 L741,539 L729,545.500 L722,542 Z"/>
<path d="M724,536.500 l6,-4.500 l3,1.500 l-6,4.500z M731,540.500 l7,-4 l1,2 l-7,4z" fill="#fff"/>
<path d="M726,534 l5,3 M728.500,532.500 l5,3" stroke="#000" stroke-width="0.800"/>
<path class="w" d="M722,543 l7,3.500 l-5,3 l-4,-2z"/>
<!-- rails middle -->
<path class="k" d="M738.500,528.500 L760,516.500 M740,531 L761.500,519 M741.500,533.500 L763,521.500 M739.500,530 L760.500,518"/>
<circle class="k" cx="743.500" cy="523.500" r="0.900"/>
<!-- pin box -->
<path class="w" d="M759,512 L763,509.500 L769,512 L770,520 L764,523.500 L760,521 Z"/>
<path class="b" d="M762,507.500 q1.500,-2.500 3.500,-1.500 q1.500,1.500 0.500,3.500 l-3,1.500z"/>
<path class="k" d="M763,514 l5,-2 M764,523 v-7 l-4,-3"/>
<path class="b" d="M764,516 l5.500,-3 l0.500,7 l-6,3.500z"/>
<!-- dark box 2 -->
<path class="b" d="M769.500,511 L776,503.500 L784,506.500 L785,513 L775,519 L770.500,517 Z"/>
<path d="M772,511.500 l4.500,-5 l2,0.800 l-4.500,5z M777.500,514.500 l5,-3 l0.500,1.800 l-5,3z M778,508.500 l4,1.500 l-3,2.500z" fill="#fff"/>
<!-- box 3 -->
<path class="w" d="M778,497 L787,491.500 L799,492 L801.500,496 L800.500,501.500 L785,511 L779.500,505 Z"/>
<path class="k" d="M778,497 L782,501.500 L793,495 M782,501.500 L784,509"/>
<path class="k" style="stroke-width:1.500" d="M787,491.500 L790,497"/>
<path class="b" d="M786,503 l9,-5.500 l3,1.500 l-10,6.500z"/>
<path class="w" d="M789,507 l9,-6 l2.500,2 l-9,6z"/>
<path class="b" d="M779.500,498 L782,501.500 L784,509 L781,507 Z"/>
<path class="b" d="M793,495 l6,-2.500 l2,3 l-6,3z"/>
<!-- knob -->
<path class="w" d="M796,490 l4,-3 l5,1 l3,5 l-4,4 l-6,-1z"/>
<circle class="w" cx="804.600" cy="487" r="2.200"/>
<path class="b" d="M808,489.500 l4,-1.500 l1,3 l-3.500,2.500z"/>
<!-- plate -->
<path class="w" d="M806,485 L819,475.500 L823,479 L811,489 Z"/>
<path class="k" d="M808,488 L820.500,478"/>
<path class="b" d="M811,489 l12,-10 l1,2 l-11,9.500z"/>
<!-- right box dark -->
<path class="b" d="M820,470 L826,462 L836,456 L842.700,462 L842,470 L829,479.500 L823,478 Z"/>
<path class="w" d="M820,470.500 l4,2 l1,6 l-4,-1.500z" style="stroke-width:0.800"/>
<path d="M827,464 l8,-5 l2,1.500 l-8,5.500z M830,470 l4,-3 l1.500,2 l-4,3z M836.500,465 l3.500,-2.500 l0.500,2.500 l-3,2z M826,472.500 l3,1.500 v3.500 l-3,-1.500z" fill="#fff"/>
<path d="M829,461.500 l5,5 M832,459.500 l5,5 M826.500,466.500 l5,5" stroke="#000" stroke-width="0.700"/>
<path class="w" d="M843.500,465 l3,-3 l2,1.500 l-3,3.500z" style="stroke-width:0.800"/>
</g>
<!-- clip near 40 -->
<g id="pclip40">
<ellipse class="d" style="stroke-dasharray:3 1.200" cx="722.400" cy="683.600" rx="5.600" ry="3.800"/>
<path class="d" style="stroke-dasharray:2 1" d="M718.500,683.500 q2,-2 4,0 q2,2 4,0"/>
<path class="w" d="M717.200,678 h10.400 v3 h-10.400z" style="stroke-width:0.800"/>
<ellipse class="w" cx="722.400" cy="674.400" rx="7.600" ry="4"/>
<ellipse class="k" cx="722.400" cy="673.500" rx="5" ry="2.600"/>
<path class="w" d="M722.400,662 L718.600,672.500 Q722.400,675.500 726.200,672.500 Z"/>
<path class="b" d="M722.400,662 l-2,5.500 l2,-1.500 l2,1.500z"/>
<path class="w" d="M720.800,667.500 q1.600,-1 3.200,0 v7.500 h-3.200z"/>
<path class="k" style="stroke-width:1.400" d="M725.500,668.500 L726,672.500"/>
</g>
<!-- cable 80 lower -->
<g id="pcable">
<path class="w" style="stroke-width:1.800" d="M588.400,587.500 L594.600,584 L599.700,592 L593.500,594.800 Z"/>
<path class="k" d="M591.500,585.800 L596.500,593.300"/>
<path class="k" style="stroke-width:1.300" d="M597.200,593.500 L622.500,633.500 M599.200,592.500 L624.500,632.500"/>
<path class="w" d="M624.600,646.300 L631.400,653.100 L639.900,646.900 L634,641 Z"/>
<path class="b" d="M618.400,641 L622,633 L627,631.500 L629,636 L636,634 L641.500,637.500 L638,645.200 L630,646.500 L622,644.500 Z"/>
<path class="w" d="M629.700,630 q0,-2 3.400,-1.800 q3.400,0.200 3.400,2.500 l-0.500,4.500 l-6,1z"/>
<path d="M622.500,637 l3,-2.500 l2.500,1 l0,5 l-4,0.500z M631,638.500 l4,-1.500 l2,2 l-4,3z" fill="#fff"/>
<path class="k" d="M633,629 v6"/>
</g>
<!-- small curved arrow -->
<g id="parrow2">
<path d="M604.3,586.0 L605.5,584.5 L607.2,582.2 L609.1,579.7 L611.1,577.2 L613.0,575.0 L614.8,573.3 L616.7,571.6 L618.6,570.1 L620.6,568.7 L622.7,567.3 L624.9,565.8 L627.2,564.5 L629.6,563.2 L632.0,562.0 L634.4,560.9 L636.6,560.0 L638.8,559.3 L641.0,558.6 L643.4,558.0 L646.1,557.4 L649.6,556.8 L653.7,556.3 L657.9,555.8 L661.5,555.4 L664.0,555.1 L664.0,554.1 L661.4,554.3 L657.7,554.6 L653.6,554.9 L649.4,555.3 L645.9,555.8 L643.0,556.3 L640.5,556.9 L638.2,557.5 L636.0,558.2 L633.6,559.1 L631.1,560.1 L628.6,561.2 L626.1,562.5 L623.7,563.8 L621.3,565.1 L619.1,566.5 L617.0,568.0 L615.0,569.5 L613.0,571.2 L611.0,573.0 L608.9,575.2 L606.7,577.7 L604.6,580.2 L602.9,582.4 L601.7,584.0Z" fill="#000"/>
<path d="M668.800,554.600 L661.500,551.300 L663.200,554.800 L662,558.300 Z" fill="#000"/>
</g>
<!-- clip 90 -->
<g id="p90">
<ellipse class="w" cx="653.300" cy="530" rx="10.500" ry="4.200"/>
<path class="w" d="M648.700,533.500 Q648.500,538 650.500,540 H656 Q658,538 657.500,533.500 Q653,535.500 648.700,533.500Z"/>
<path class="k" d="M651,535.500 V540 M653.300,536 V540.300 M655.500,535.500 V540"/>
<path class="w" d="M649.200,528.500 L649.500,511 Q653.300,503 657,511 L657.300,528.500 Q653.300,531 649.200,528.500Z"/>
<path class="k" style="stroke-width:1.500" d="M649.500,513 h7.500 M649.500,516.500 h7.500 M649.500,520 h7.500 M649.500,523.500 h7.500 M649.500,527 h7.500"/>
<path class="k" style="stroke-width:1.400" d="M651.500,508.500 q2,-3 4,0"/>
<path class="k" style="stroke-width:1.600" d="M656.800,511 V528"/>
</g>
<!-- clip 70 -->
<g id="p70">
<ellipse class="w" cx="806.200" cy="456.800" rx="12" ry="5.800"/>
<ellipse class="k" cx="806.200" cy="455.800" rx="9.500" ry="4.200"/>
<path class="w" d="M799.400,456 V441 Q799.400,433.200 806.200,433.200 Q812.600,433.200 812.600,441 V456 Q806.200,460 799.400,456Z"/>
<path class="k" d="M802.500,458 V440 Q803,436 806.500,436 M809.500,458.500 V440"/>
<path class="b" d="M805,438.500 h2 v2.500 h-2z M805,444 h2 v2.500 h-2z M805,449.500 h2 v2.500 h-2z"/>
<path class="k" style="stroke-width:1.500" d="M797,461 Q806,465.500 815.500,460.500"/>
</g>
<!-- screw 50 -->
<g id="p50">
<ellipse class="w" cx="807.900" cy="546.300" rx="8.500" ry="4.600"/>
<ellipse class="k" cx="807.900" cy="545.300" rx="6.500" ry="3"/>
<path class="k" d="M801,549 Q808,552.500 815,549" style="stroke-width:1.400"/>
<path class="w" d="M804,544 V522 Q807.700,517.500 811.400,522 V544 Q807.700,546 804,544Z"/>
<path class="k" style="stroke-width:1.400" d="M804,524 h7.400 M804,527.500 h7.400 M804,531 h7.400 M804,534.500 h7.400 M804,538 h7.400 M804,541.500 h7.400"/>
</g>
<!-- part 10 -->
<g id="p10">
<path class="w" d="M745.2,590.4 L750.4,583.6 L758.4,570.8 L764.0,568.0 L772.0,560.4 L776.0,557.0 L783.6,557.6 L790.4,558.8 L794.4,568.4 L798.0,573.2 L797.6,584.4 L770.0,605.2 L745.2,591.6Z"/>
<path class="dt" style="stroke-dasharray:2.500 1.200" d="M783.6,557.6 L790.4,558.8 L794.4,568.4 L788.0,570.4"/>
<path class="k" style="stroke-width:2.200" d="M745.2,591.0 L770.0,605.2"/>
<path class="k" style="stroke-width:1.800" d="M746.4,588.4 L770.8,601.6"/>
<path class="k" style="stroke-width:1.200" d="M745.2,590.4 L745.2,591.6"/>
<path class="b" d="M745.2,590.4 L748.8,587.6 L752.8,590.0 L749.6,593.2Z"/>
<circle cx="749.4" cy="591.6" r="0.700" fill="#fff"/>
<path class="k" style="stroke-width:1.500" d="M772.0,596.4 L771.6,603.6 M775.2,594.0 L774.8,601.2 M778.4,591.6 L778.0,598.8 M781.6,589.2 L781.2,596.4 M784.8,586.8 L784.4,594.0 M788.0,584.4 L787.6,591.6 M791.2,582.0 L790.8,589.2 M794.4,579.6 L794.0,586.8 M797.6,577.2 L797.2,584.4"/>
<path class="k" style="stroke-width:1.500" d="M770.8,598.0 L797.6,577.6"/>
<path class="k" style="stroke-width:2.200" d="M768.0,592.0 L796.0,573.2"/>
<path class="k" style="stroke-width:1.300" d="M770.0,605.2 L797.6,584.4 L798.0,573.2"/>
<path class="k" style="stroke-width:1.600" d="M770.4,598.8 L770.0,605.2"/>
<path class="w" style="stroke-width:1.300" d="M750.4,585.2 L756.0,580.0 L761.6,579.6 L766.8,591.6 L762.8,594.8 L752.8,589.2Z"/>
<path class="k" style="stroke-width:1.300" d="M756.0,580.0 L758.8,587.6 L762.8,594.8"/>
<path class="k" d="M758.8,587.6 L752.0,586.4"/>
<path class="b" d="M760.4,588.4 L764.0,586.4 L766.4,591.6 L763.2,593.8Z"/>
<path class="b" d="M758.6,571.2 L761.0,568.6 L764.0,568.6 L766.8,574.0 L772.4,587.6 L769.6,590.4 L766.4,589.2 L764.0,582.0 L759.6,576.4Z"/>
<path d="M764.0,571.6 L765.4,571.4 L769.8,583.6 L768.4,585.2Z" fill="#fff"/>
<path class="b" d="M765.6,567.2 L772.0,561.2 L776.0,557.2 L780.0,559.2 L783.2,566.0 L789.6,573.2 L791.2,576.4 L788.0,580.4 L781.6,584.4 L773.6,588.4 L771.2,585.2 L767.2,573.2Z"/>
<path d="M767.6,568.0 L772.8,563.2 L776.0,570.8 L774.4,576.4 L771.6,577.2Z" fill="#fff"/>
<path d="M777.2,561.2 L780.0,562.0 L781.6,566.0 L779.2,567.2Z" fill="#fff"/>
<path d="M781.6,569.2 L784.8,568.0 L787.2,573.2 L784.0,575.2Z" fill="#fff"/>
<path d="M776.4,574.8 L780.0,573.2 L781.6,577.2 L778.0,579.2Z" fill="#fff"/>
<path d="M775.2,582.0 L779.2,580.0 L780.0,582.0 L776.0,584.4Z" fill="#fff"/>
<path d="M782.8,578.8 L786.4,576.8 L787.2,578.4 L783.6,580.8Z" fill="#fff"/>
<path class="b" d="M771.6,568.4 L773.2,567.2 L776.4,576.4 L774.8,577.6Z"/>
<path d="M774.4,565.2 L781.6,569.2 L777.6,571.6 L784.8,575.6" stroke="#000" stroke-width="0.900" fill="none"/>
<path class="k" style="stroke-width:1.500" d="M788.0,570.4 L796.0,568.8"/>
<path class="k" style="stroke-width:1.300" d="M783.6,557.6 L788.0,570.0"/>
</g>
</g>
</g>
<!--LABELS-->
<g class="lb">
<text x="276" y="93.5">400</text>
<text x="356" y="84.5">410</text>
<text x="195" y="154">910</text>
<text x="347" y="183.5">360</text>
<text x="250" y="212">380</text>
<text x="346.5" y="249.5">390</text>
<text x="267" y="416.5">200</text>
<text x="186.5" y="535">902</text>
<text x="262" y="553.5">170</text>
<text x="365.5" y="486.5">150</text>
<text x="448.5" y="483.5">130</text>
<text x="491.5" y="546.5">100</text>
<text x="368" y="567.5">904</text>
<text x="408" y="587">280</text>
<text x="481" y="611">250</text>
<text x="505" y="642.5">900</text>
<text x="574.5" y="611.5">80</text>
<text x="661.5" y="519.5">90</text>
<text x="801.7" y="426.5">70</text>
<text x="822" y="549.5">50</text>
<text x="667" y="611.5">30</text>
<text x="785.7" y="613.5">10</text>
<text x="849" y="611">908</text>
<text x="746.5" y="667.5">40</text>
</g>
</svg>
</body></html>
